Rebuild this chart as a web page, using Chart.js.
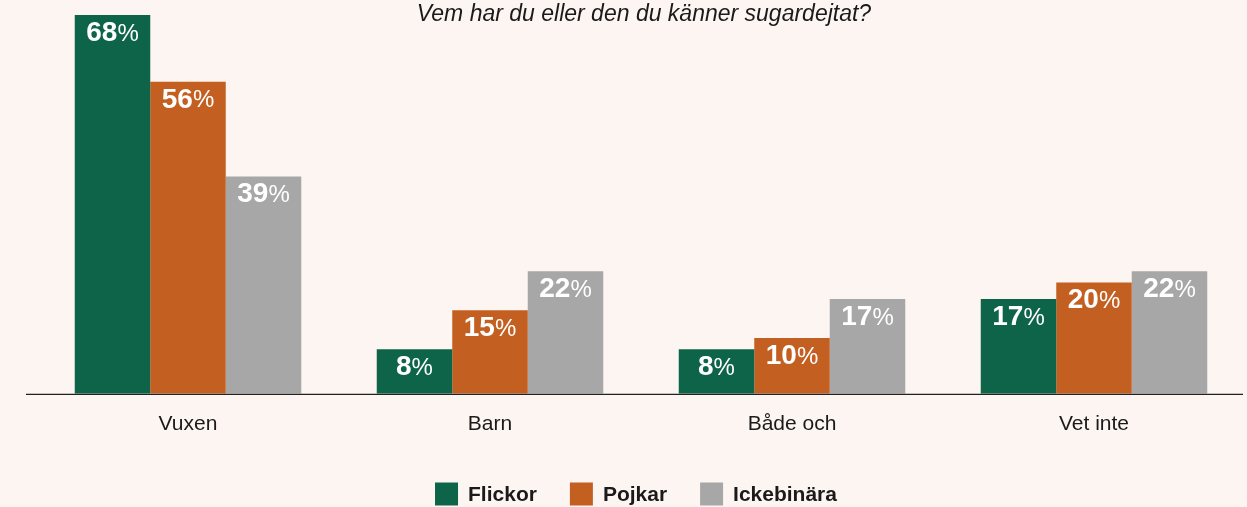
<!DOCTYPE html>
<html>
<head>
<meta charset="utf-8">
<script src="https://cdn.jsdelivr.net/npm/chart.js@4"></script>
<style>
  html, body { margin: 0; padding: 0; background: #fdf5f1; }
  #wrap { position: relative; width: 1247px; height: 507px; }
</style>
</head>
<body>
<div id="wrap"><canvas id="chart"></canvas></div>
<script>
// Sugardejting survey: who did you / someone you know date?
const TITLE = 'Vem har du eller den du känner sugardejtat?';
const categories = ['Vuxen', 'Barn', 'Både och', 'Vet inte'];
const flickor    = [68, 8, 8, 17];
const pojkar     = [56, 15, 10, 20];
const ickebinara = [39, 22, 17, 22];

const COLORS = {
  green:  '#0e6449',
  orange: '#c35f20',
  grey:   '#a6a7a6',
  text:   '#1a1a1a',
};
const FONT = '"Liberation Sans", Arial, sans-serif';

// Title, baseline, legend and white value labels inside the bars
const overlay = {
  id: 'overlay',
  afterDatasetsDraw(chart) {
    const ctx = chart.ctx;
    const bottom = chart.chartArea.bottom;
    ctx.save();
    ctx.strokeStyle = '#222';
    ctx.lineWidth = 1.3;
    ctx.beginPath();
    ctx.moveTo(26, bottom + 0.5);
    ctx.lineTo(1243, bottom + 0.5);
    ctx.stroke();

    // value labels
    ctx.fillStyle = '#fff';
    ctx.textBaseline = 'middle';
    ctx.textAlign = 'left';
    chart.data.datasets.forEach((ds, i) => {
      chart.getDatasetMeta(i).data.forEach((bar, j) => {
        const num = String(ds.data[j]);
        ctx.font = 'bold 28px ' + FONT;
        const w1 = ctx.measureText(num).width;
        ctx.font = '24px ' + FONT;
        const w2 = ctx.measureText('%').width;
        const x0 = bar.x - (w1 + w2) / 2;
        const y = bar.y + 18;
        ctx.font = 'bold 28px ' + FONT;
        ctx.fillText(num, x0, y);
        ctx.font = '24px ' + FONT;
        ctx.fillText('%', x0 + w1, y + 1);
      });
    });

    // legend
    const box = 23, gapText = 10, gapItem = 33;
    ctx.font = 'bold 21px ' + FONT;
    const items = chart.data.datasets.map(ds => ({
      label: ds.label, color: ds.backgroundColor,
      w: box + gapText + ctx.measureText(ds.label).width,
    }));
    const total = items.reduce((s, it) => s + it.w, 0) + gapItem * (items.length - 1);
    let x = 636 - total / 2;
    const ly = 494;
    items.forEach(it => {
      ctx.fillStyle = it.color;
      ctx.fillRect(x, ly - box / 2, box, box);
      ctx.fillStyle = COLORS.text;
      ctx.fillText(it.label, x + box + gapText, ly + 1);
      x += it.w + gapItem;
    });

    // title
    ctx.fillStyle = COLORS.text;
    ctx.textAlign = 'center';
    ctx.font = 'italic 23px ' + FONT;
    ctx.fillText(TITLE, 644, 15);
    ctx.restore();
  }
};

new Chart(document.getElementById('chart'), {
  type: 'bar',
  data: {
    labels: categories,
    datasets: [
      { label: 'Flickor',    data: flickor,    backgroundColor: COLORS.green },
      { label: 'Pojkar',     data: pojkar,     backgroundColor: COLORS.orange },
      { label: 'Ickebinära', data: ickebinara, backgroundColor: COLORS.grey },
    ],
  },
  options: {
    responsive: true,
    maintainAspectRatio: false,
    animation: false,
    datasets: { bar: { barPercentage: 1, categoryPercentage: 0.75 } },
    layout: { padding: { left: 37, right: 2, top: 15, bottom: 60 } },
    scales: {
      x: {
        grid: { display: false },
        border: { display: false },
        ticks: { color: COLORS.text, font: { family: FONT, size: 21 }, padding: 10 },
      },
      y: { display: false, min: 0, max: 68 },
    },
    plugins: {
      legend: { display: false },
      tooltip: { enabled: false },
    },
  },
  plugins: [overlay],
});
</script>
</body>
</html>
